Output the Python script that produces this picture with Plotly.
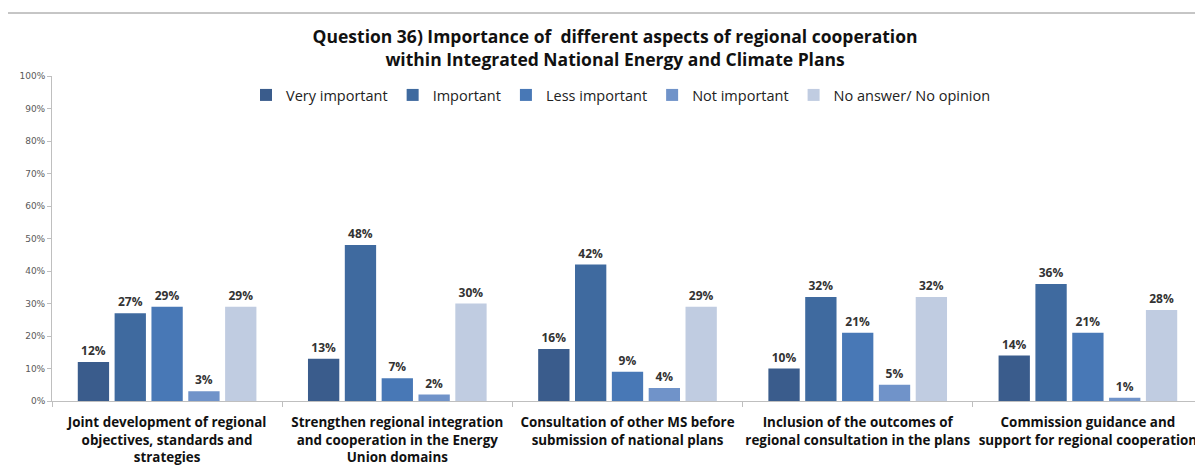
import plotly.graph_objects as go

categories = [
    "Joint development of regional<br>objectives, standards and<br>strategies",
    "Strengthen regional integration<br>and cooperation in the Energy<br>Union domains",
    "Consultation of other MS before<br>submission of national plans",
    "Inclusion of the outcomes of<br>regional consultation in the plans",
    "Commission guidance and<br>support for regional cooperation",
]
series_names = ["Very important", "Important", "Less important", "Not important", "No answer/ No opinion"]
very_important = [12, 13, 16, 10, 14]
important = [27, 48, 42, 32, 36]
less_important = [29, 7, 9, 21, 21]
not_important = [3, 2, 4, 5, 1]
no_answer = [29, 30, 29, 32, 28]
colors = ["#3A5C8C", "#3F6A9F", "#4878B6", "#7093C9", "#C0CCE1"]

values = [very_important, important, less_important, not_important, no_answer]
FONT = "Open Sans, Lato, sans-serif"

fig = go.Figure()
for name, vals, col in zip(series_names, values, colors):
    fig.add_trace(go.Bar(
        x=categories, y=vals, name=name,
        marker=dict(color=col, line=dict(width=0)),
        text=[f"{v}%" for v in vals], textposition="outside",
        textfont=dict(family=FONT, size=12, color="#333333", weight="bold"),
        cliponaxis=False,
    ))

# page has an 8px body margin; figure coordinates = screen coordinates - 8
OFF = 8
W, H = 1203 - OFF, 468 - OFF
ml, mr, mt, mb = 52 - OFF, 0, 76 - OFF, H - (401 - OFF)
pw = W - ml - mr
ph = H - mt - mb

fig.update_layout(
    width=W, height=H,
    margin=dict(l=ml, r=mr, t=mt, b=mb, autoexpand=False),
    paper_bgcolor="white", plot_bgcolor="white",
    barmode="group", bargap=0.2, bargroupgap=0.15,
    title=dict(
        text="Question 36) Importance of  different aspects of regional cooperation<br>within Integrated National Energy and Climate Plans",
        x=0.508, xanchor="center", yref="container", y=1 - 35 / H, yanchor="top",
        font=dict(family=FONT, size=17.5, color="#111111", weight="bold"),
    ),
    legend=dict(
        orientation="h", x=(246 - OFF - ml) / pw, xanchor="left",
        y=(401 - 95) / ph, yanchor="middle",
        font=dict(family=FONT, size=14.5, color="#222222"),
        itemwidth=30, traceorder="normal", bgcolor="rgba(0,0,0,0)",
    ),
    showlegend=True,
    xaxis=dict(
        automargin=False, tickangle=0, ticklabelstandoff=9,
        showline=True, linecolor="#BFBFBF", linewidth=1,
        ticks="outside", tickson="boundaries", ticklen=5, tickcolor="#BFBFBF",
        tickfont=dict(family=FONT, size=13.4, color="#111111", weight="bold"),
        showgrid=False,
    ),
    yaxis=dict(
        automargin=False,
        range=[0, 100], dtick=10, ticksuffix="%",
        showline=True, linecolor="#BFBFBF", linewidth=1,
        ticks="outside", ticklen=4, tickcolor="#BFBFBF",
        tickfont=dict(family="DejaVu Sans, Verdana, sans-serif", size=9, color="#595959"),
        showgrid=False, zeroline=False,
    ),
    shapes=[dict(
        type="rect", xref="paper", yref="paper",
        x0=(7 - OFF - ml) / pw, x1=1.01, y0=-0.5, y1=(401 - 13) / ph,
        line=dict(color="#8C8C8C", width=1), fillcolor="rgba(0,0,0,0)", layer="below",
    )],
)

fig.write_html("out.html")
